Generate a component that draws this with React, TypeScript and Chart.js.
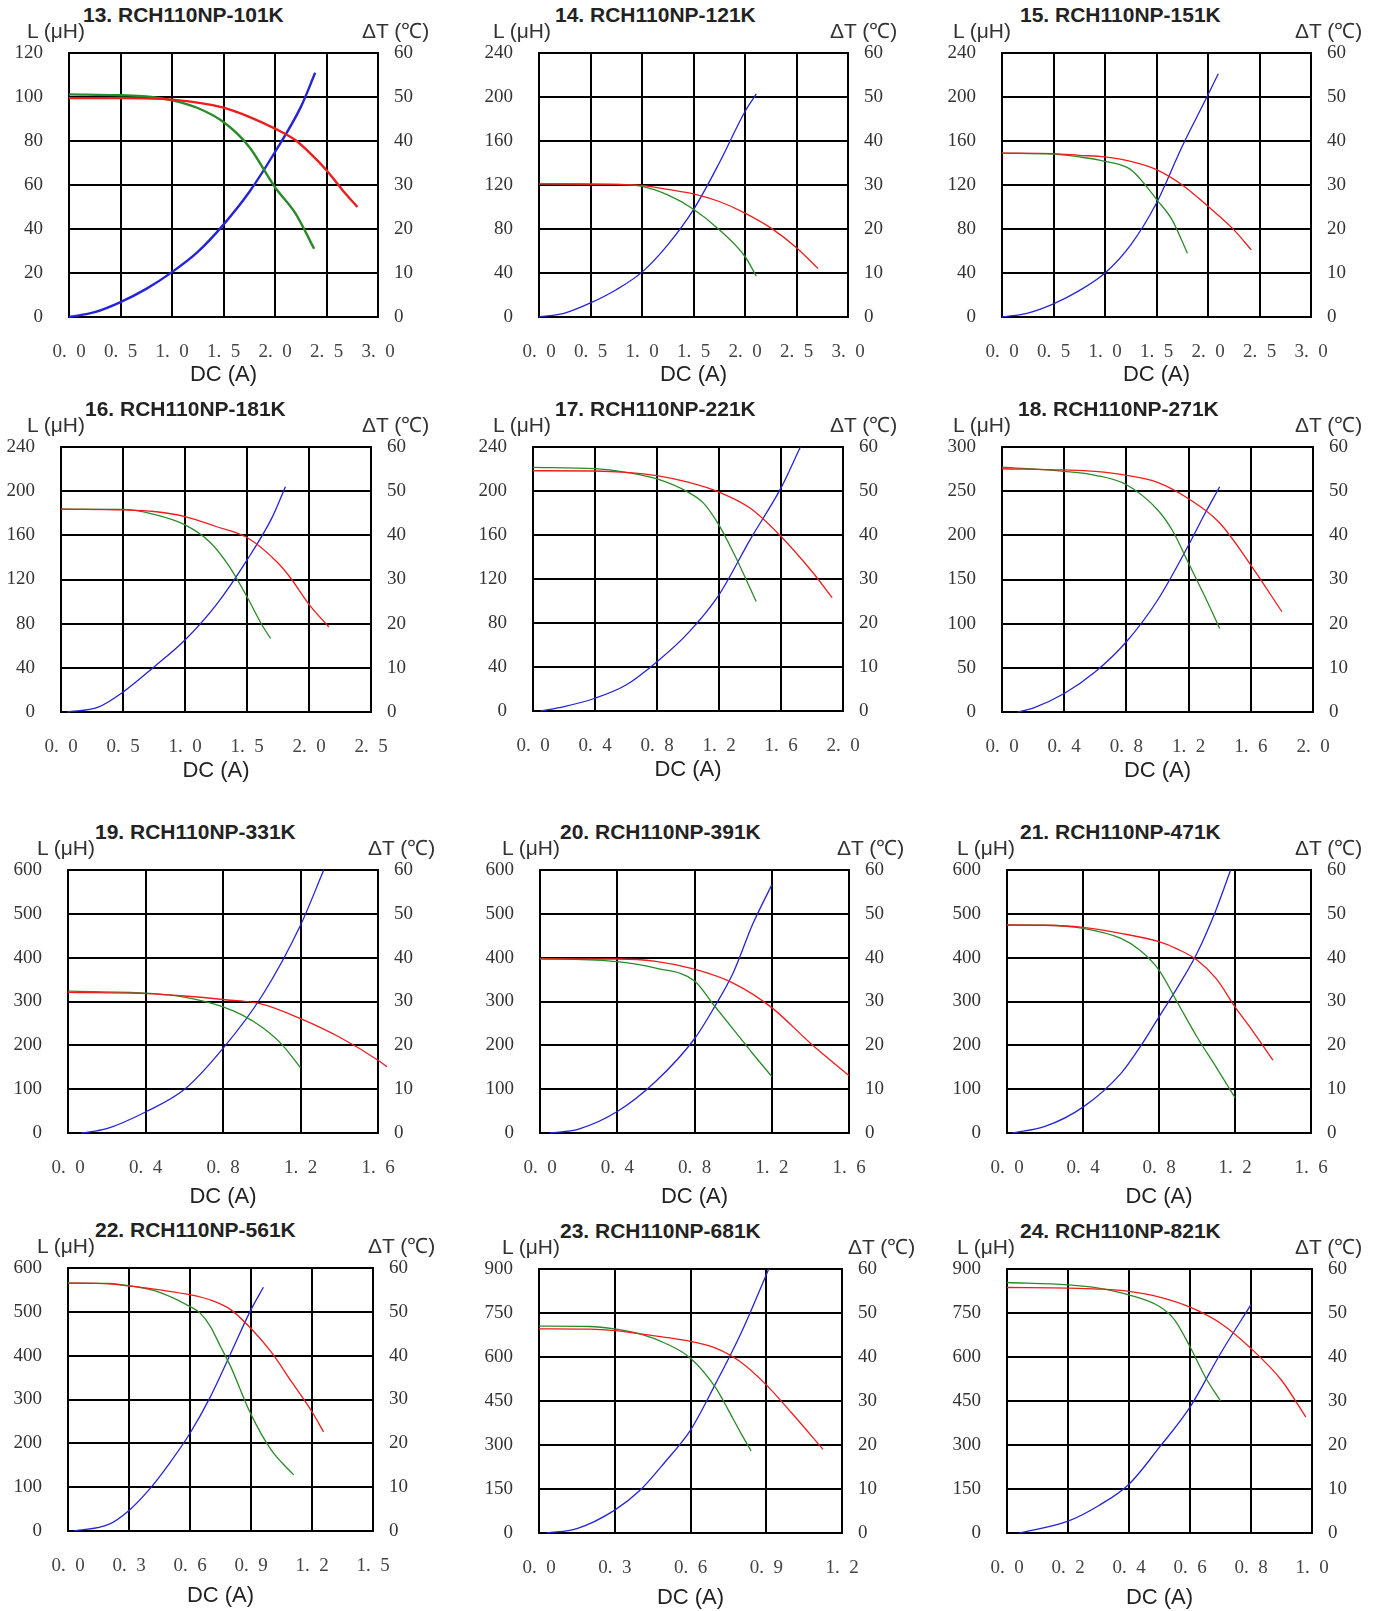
import React, { useEffect, useRef } from 'react';
import { Chart, registerables } from 'chart.js';
Chart.register(...registerables);

// ---------- Panel titles ----------
const TITLES = [
  '13. RCH110NP-101K', '14. RCH110NP-121K', '15. RCH110NP-151K',
  '16. RCH110NP-181K', '17. RCH110NP-221K', '18. RCH110NP-271K',
  '19. RCH110NP-331K', '20. RCH110NP-391K', '21. RCH110NP-471K',
  '22. RCH110NP-561K', '23. RCH110NP-681K', '24. RCH110NP-821K',
];

// ---------- Axis ranges ----------
const X_MAX = [3, 3, 3, 2.5, 2, 2, 1.6, 1.6, 1.6, 1.5, 1.2, 1.0];
const X_STEP = [0.5, 0.5, 0.5, 0.5, 0.4, 0.4, 0.4, 0.4, 0.4, 0.3, 0.3, 0.2];
const L_MAX = [120, 240, 240, 240, 240, 300, 600, 600, 600, 600, 900, 900];
const T_MAX = 60;
const T_STEP = 10;

// ---------- Series data: I = DC current (A), L = inductance (µH), T = temp rise (°C) ----------
// 13
const I13_red = [0, 0.5, 1.0, 1.5, 1.75, 2.0, 2.2, 2.35, 2.5, 2.65, 2.8];
const L13_red = [99.5, 99.5, 98.8, 95.2, 91, 85.6, 80.3, 74, 66.7, 58, 50];
const I13_green = [0, 0.5, 0.75, 1.0, 1.25, 1.5, 1.75, 2.0, 2.2, 2.38];
const L13_green = [101.2, 100.8, 100.3, 98.5, 95, 88.6, 77.3, 59, 47, 31];
const I13_temp = [0, 0.25, 0.5, 0.75, 1.0, 1.25, 1.5, 1.75, 2.0, 2.25, 2.39];
const T13_temp = [0, 1.1, 3.4, 6.4, 10.2, 14.8, 21, 28.4, 37.5, 47.7, 55.5];
// 14
const I14_red = [0, 0.75, 1.0, 1.25, 1.5, 1.75, 2.0, 2.25, 2.5, 2.71];
const L14_red = [121, 120.5, 119.7, 116, 112, 105, 94.5, 81, 63, 44];
const I14_green = [0, 0.75, 1.0, 1.25, 1.5, 1.75, 2.0, 2.11];
const L14_green = [121, 120.5, 118.8, 111, 98, 79.4, 55, 37];
const I14_temp = [0, 0.25, 0.5, 0.75, 1.0, 1.25, 1.5, 1.75, 2.0, 2.11];
const T14_temp = [0, 0.9, 3.2, 6.2, 10.2, 16.4, 24.4, 35, 46.7, 50.7];
// 15
const I15_red = [0, 0.5, 0.75, 1.0, 1.25, 1.5, 1.75, 2.0, 2.25, 2.42];
const L15_red = [149, 148.5, 147, 145.5, 141.5, 134, 120, 100.6, 79.4, 61];
const I15_green = [0, 0.5, 0.75, 1.0, 1.25, 1.4, 1.5, 1.65, 1.8];
const L15_green = [149, 148, 145.5, 141.5, 134, 119, 107, 88.5, 58];
const I15_temp = [0, 0.25, 0.5, 0.75, 1.0, 1.25, 1.5, 1.75, 2.0, 2.1];
const T15_temp = [0, 0.9, 3, 6, 10, 16.4, 25.9, 38.8, 50.5, 55.3];
// 16
const I16_red = [0, 0.5, 0.75, 1.0, 1.25, 1.5, 1.75, 1.85, 2.0, 2.16];
const L16_red = [183.7, 183, 181.6, 177, 168, 158, 135, 121.6, 97.5, 77];
const I16_green = [0, 0.5, 0.75, 1.0, 1.2, 1.35, 1.5, 1.62, 1.69];
const L16_green = [183.7, 183.5, 179, 169.5, 154, 133, 104.4, 79, 66.6];
const I16_temp = [0.05, 0.3, 0.5, 0.75, 1.0, 1.25, 1.5, 1.7, 1.81];
const T16_temp = [0, 1.1, 4.5, 10.2, 16.3, 24.2, 34.4, 43.9, 51];
// 17
const I17_red = [0, 0.4, 0.6, 0.8, 1.0, 1.2, 1.4, 1.6, 1.8, 1.93];
const L17_red = [218.4, 218.2, 217, 214, 208, 199, 184.5, 158.7, 126.8, 103];
const I17_green = [0, 0.4, 0.6, 0.8, 1.0, 1.1, 1.2, 1.3, 1.44];
const L17_green = [221.5, 220.3, 217, 211, 199, 189, 169, 142, 99.5];
const I17_temp = [0.05, 0.2, 0.4, 0.6, 0.8, 1.0, 1.2, 1.4, 1.6, 1.725];
const T17_temp = [0, 1, 2.9, 5.9, 11.2, 17.7, 26.4, 38.9, 50.7, 60];
// 18
const I18_red = [0, 0.4, 0.6, 0.8, 1.0, 1.2, 1.4, 1.6, 1.8];
const L18_red = [275.4, 274, 272.4, 268, 260, 241.4, 214, 166.4, 113.5];
const I18_green = [0, 0.4, 0.6, 0.8, 1.0, 1.1, 1.2, 1.3, 1.4];
const L18_green = [277.3, 272.4, 268, 257.3, 229, 204.3, 168.4, 132.4, 94.6];
const I18_temp = [0.1, 0.2, 0.4, 0.6, 0.8, 1.0, 1.2, 1.3, 1.4];
const T18_temp = [0, 0.9, 4.2, 9.1, 15.9, 25.3, 37.8, 44.6, 51];
// 19
const I19_red = [0, 0.4, 0.6, 0.8, 1.0, 1.2, 1.4, 1.6, 1.646];
const L19_red = [320.6, 318, 312.6, 304.6, 294, 261, 219, 166, 151];
const I19_green = [0, 0.4, 0.6, 0.8, 0.9, 1.0, 1.1, 1.2];
const L19_green = [323.6, 319, 310, 287.8, 269, 242, 204, 149.3];
const I19_temp = [0.07, 0.2, 0.4, 0.6, 0.8, 1.0, 1.2, 1.32];
const T19_temp = [0, 1, 4.8, 9.9, 19.3, 31.2, 47.4, 60];
// 20
const I20_red = [0, 0.4, 0.6, 0.8, 1.0, 1.2, 1.4, 1.6];
const L20_red = [397, 397, 391.6, 373.6, 342, 286, 205, 131];
const I20_green = [0, 0.4, 0.6, 0.8, 0.9, 1.0, 1.1, 1.2];
const L20_green = [398.6, 391, 376, 347, 292, 237, 182, 129];
const I20_temp = [0.05, 0.2, 0.4, 0.6, 0.8, 0.9, 1.0, 1.1, 1.2];
const T20_temp = [0, 0.9, 4.9, 11.8, 21.5, 28.5, 36.5, 47.5, 56.6];
// 21
const I21_red = [0, 0.2, 0.4, 0.6, 0.8, 0.9, 1.0, 1.1, 1.2, 1.3, 1.4];
const L21_red = [474.5, 474, 469, 455.4, 436.4, 419, 394.5, 352.6, 288, 228.5, 166];
const I21_green = [0, 0.2, 0.4, 0.6, 0.7, 0.8, 0.9, 1.0, 1.1, 1.2];
const L21_green = [474.5, 474, 467, 444, 417, 371.7, 295.5, 219, 150.8, 80.7];
const I21_temp = [0.03, 0.2, 0.4, 0.6, 0.7, 0.8, 0.9, 1.0, 1.1, 1.177];
const T21_temp = [0, 1.5, 5.9, 13.6, 19.6, 26.5, 33.4, 41, 50.9, 60];
// 22
const I22_red = [0, 0.2, 0.3, 0.45, 0.6, 0.7, 0.8, 0.9, 1.0, 1.1, 1.2, 1.257];
const L22_red = [565.7, 564, 559, 550, 539, 527, 505, 462, 408, 340, 272, 226];
const I22_green = [0, 0.2, 0.3, 0.45, 0.6, 0.65, 0.7, 0.75, 0.8, 0.9, 1.0, 1.11];
const L22_green = [565.7, 565, 559.6, 544.4, 512, 497, 467, 420.8, 375, 266, 184.5, 128];
const I22_temp = [0.03, 0.2, 0.3, 0.4, 0.5, 0.6, 0.7, 0.8, 0.9, 0.961];
const T22_temp = [0, 1.5, 4.7, 9.5, 15.5, 22.3, 30.6, 40.5, 50.5, 55.6];
// 23
const I23_red = [0, 0.2, 0.3, 0.4, 0.5, 0.6, 0.7, 0.8, 0.9, 1.0, 1.125];
const L23_red = [696, 695, 690, 679, 667, 653, 630, 582, 505, 410, 285];
const I23_green = [0, 0.2, 0.3, 0.4, 0.5, 0.6, 0.7, 0.75, 0.8, 0.84];
const L23_green = [705, 704, 696, 679, 647, 596, 495, 419, 339.5, 280];
const I23_temp = [0.03, 0.15, 0.3, 0.4, 0.5, 0.6, 0.7, 0.8, 0.91];
const T23_temp = [0, 1, 5.2, 9.7, 16.2, 23.4, 34, 45.4, 60];
// 24
const I24_red = [0, 0.2, 0.3, 0.4, 0.5, 0.6, 0.7, 0.8, 0.9, 0.98];
const L24_red = [837, 835, 831.7, 823.7, 804, 769.8, 715, 629, 520.8, 395];
const I24_green = [0, 0.2, 0.3, 0.4, 0.5, 0.55, 0.6, 0.65, 0.7];
const L24_green = [854, 846, 835, 812, 772, 726, 635, 532, 450];
const I24_temp = [0.04, 0.2, 0.3, 0.4, 0.5, 0.6, 0.7, 0.8];
const T24_temp = [0, 2.7, 6.2, 11.1, 19.5, 28.6, 40.8, 51.9];

const SERIES = [
  [I13_red, L13_red, I13_green, L13_green, I13_temp, T13_temp],
  [I14_red, L14_red, I14_green, L14_green, I14_temp, T14_temp],
  [I15_red, L15_red, I15_green, L15_green, I15_temp, T15_temp],
  [I16_red, L16_red, I16_green, L16_green, I16_temp, T16_temp],
  [I17_red, L17_red, I17_green, L17_green, I17_temp, T17_temp],
  [I18_red, L18_red, I18_green, L18_green, I18_temp, T18_temp],
  [I19_red, L19_red, I19_green, L19_green, I19_temp, T19_temp],
  [I20_red, L20_red, I20_green, L20_green, I20_temp, T20_temp],
  [I21_red, L21_red, I21_green, L21_green, I21_temp, T21_temp],
  [I22_red, L22_red, I22_green, L22_green, I22_temp, T22_temp],
  [I23_red, L23_red, I23_green, L23_green, I23_temp, T23_temp],
  [I24_red, L24_red, I24_green, L24_green, I24_temp, T24_temp],
];

// ---------- Layout (page pixels) ----------
const PLOT_L = [69, 539, 1002, 61, 533, 1002, 68, 540, 1007, 68, 539, 1007];
const PLOT_R = [378, 848, 1311, 371, 843, 1313, 378, 849, 1311, 373, 842, 1312];
const PLOT_T = [53, 53, 53, 447, 447, 447, 870, 870, 870, 1268, 1269, 1269];
const PLOT_B = [317, 317, 317, 712, 711, 712, 1133, 1133, 1133, 1531, 1533, 1533];
const TITLE_X = [83, 555, 1020, 85, 555, 1018, 95, 560, 1020, 95, 560, 1020];
const LUNIT_X = [27, 493, 953, 27, 493, 953, 37, 502, 957, 37, 502, 957];
const TUNIT_X = [362, 830, 1295, 362, 830, 1295, 368, 837, 1295, 368, 848, 1295];
const DC_DY = [58, 58, 58, 59, 59, 59, 64, 64, 64, 65, 65, 65];

const PAD_L = 70, PAD_R = 60, PAD_T = 15, PAD_B = 82;
const SERIF = '"Liberation Serif", "DejaVu Serif", serif';
const SANS = '"Liberation Sans", Arial, sans-serif';
const RED = '#ee1c1c';
const GREEN = '#2a8a2a';
const BLUE = '#2424d8';
const DC_FONT = 22;

const pts = (xs: number[], ys: number[]) => xs.map((x, k) => ({ x, y: ys[k] }));

const fixV = (w: number) => (s: any) => {
  s.width = w;
  s.paddingTop = 0;
  s.paddingBottom = 0;
};
const fixH = (h: number) => (s: any) => {
  s.height = h;
  s.paddingLeft = 0;
  s.paddingRight = 0;
};

function Panel({ i }: { i: number }) {
  const ref = useRef<HTMLCanvasElement>(null);
  const w = PLOT_R[i] - PLOT_L[i] + PAD_L + PAD_R;
  const h = PLOT_B[i] - PLOT_T[i] + PAD_T + PAD_B;

  useEffect(() => {
    const [ir, lr, ig, lg, it, tt] = SERIES[i];
    const lw = i === 0 ? 2.4 : 1.3;
    const common = { pointRadius: 0, borderWidth: lw, fill: false, cubicInterpolationMode: 'monotone' as const, clip: false as const };
    const dcPadBottom = PAD_B - DC_DY[i] - (DC_FONT * 1.2) / 2;
    // If a curve runs past the last x tick (as in 19.), leave the axis max
    // "unset" for Chart.js so the overflowing points are still drawn, and pin it afterwards.
    const dataMaxX = Math.max(...ir, ...ig, ...it);
    const overflow = dataMaxX > X_MAX[i] + 1e-9;
    const chart = new Chart(ref.current!, {
      type: 'line',
      data: {
        datasets: [
          { ...common, label: 'L (red)', data: pts(ir, lr), borderColor: RED, yAxisID: 'y' },
          { ...common, label: 'L (green)', data: pts(ig, lg), borderColor: GREEN, yAxisID: 'y' },
          { ...common, label: 'ΔT', data: pts(it, tt), borderColor: BLUE, yAxisID: 'yT' },
        ],
      },
      options: {
        animation: false,
        responsive: false,
        events: [],
        layout: { padding: { top: PAD_T, left: 0, right: 0, bottom: 0 } },
        plugins: { legend: { display: false }, tooltip: { enabled: false }, title: { display: false } },
        scales: {
          x: {
            type: 'linear',
            position: 'bottom',
            min: 0,
            max: overflow ? undefined : X_MAX[i],
            afterDataLimits: (s: any) => { s.max = X_MAX[i]; },
            afterFit: fixH(PAD_B),
            ticks: {
              stepSize: X_STEP[i],
              padding: 24,
              maxRotation: 0,
              autoSkip: false,
              color: '#444',
              font: { family: SERIF, size: 19 },
              callback: (v: any) => Number(v).toFixed(1).replace('.', '.\u2002'),
            },
            grid: { color: '#000', lineWidth: 2, drawTicks: false },
            border: { color: '#000', width: 2 },
            title: {
              display: true,
              text: 'DC (A)',
              color: '#222',
              font: { family: SANS, size: DC_FONT },
              padding: { top: 0, bottom: dcPadBottom },
            },
          },
          y: {
            type: 'linear',
            position: 'left',
            min: 0,
            max: L_MAX[i],
            afterFit: fixV(PAD_L),
            ticks: {
              stepSize: L_MAX[i] / 6,
              padding: 26,
              color: '#333',
              font: { family: SERIF, size: 19 },
            },
            grid: { color: '#000', lineWidth: 2, drawTicks: false },
            border: { color: '#000', width: 2 },
          },
          yT: {
            type: 'linear',
            position: 'right',
            min: 0,
            max: T_MAX,
            afterFit: fixV(PAD_R),
            ticks: {
              stepSize: T_STEP,
              padding: 16,
              color: '#333',
              font: { family: SERIF, size: 19 },
            },
            grid: { display: false, drawTicks: false },
            border: { color: '#000', width: 2 },
          },
        },
      },
    });
    return () => chart.destroy();
  }, [i]);

  const textBase: React.CSSProperties = {
    position: 'absolute',
    height: 24,
    lineHeight: '24px',
    whiteSpace: 'nowrap',
    fontFamily: SANS,
  };

  return (
    <>
      <canvas
        ref={ref}
        width={w}
        height={h}
        style={{ position: 'absolute', left: PLOT_L[i] - PAD_L, top: PLOT_T[i] - PAD_T, width: w, height: h }}
      />
      <div style={{ ...textBase, left: TITLE_X[i], top: PLOT_T[i] - 38 - 12, fontSize: 21, fontWeight: 'bold', color: '#222' }}>
        {TITLES[i]}
      </div>
      <div style={{ ...textBase, left: LUNIT_X[i], top: PLOT_T[i] - 22 - 12, fontSize: 21, color: '#333' }}>
        L (μH)
      </div>
      <div style={{ ...textBase, left: TUNIT_X[i], top: PLOT_T[i] - 22 - 12, fontSize: 21, color: '#333' }}>
        ΔT (℃)
      </div>
    </>
  );
}

export default function App() {
  return (
    <div style={{ position: 'absolute', left: 0, top: 0, width: 1383, height: 1611, background: '#fff', overflow: 'hidden' }}>
      {TITLES.map((_, i) => (
        <Panel key={i} i={i} />
      ))}
    </div>
  );
}
